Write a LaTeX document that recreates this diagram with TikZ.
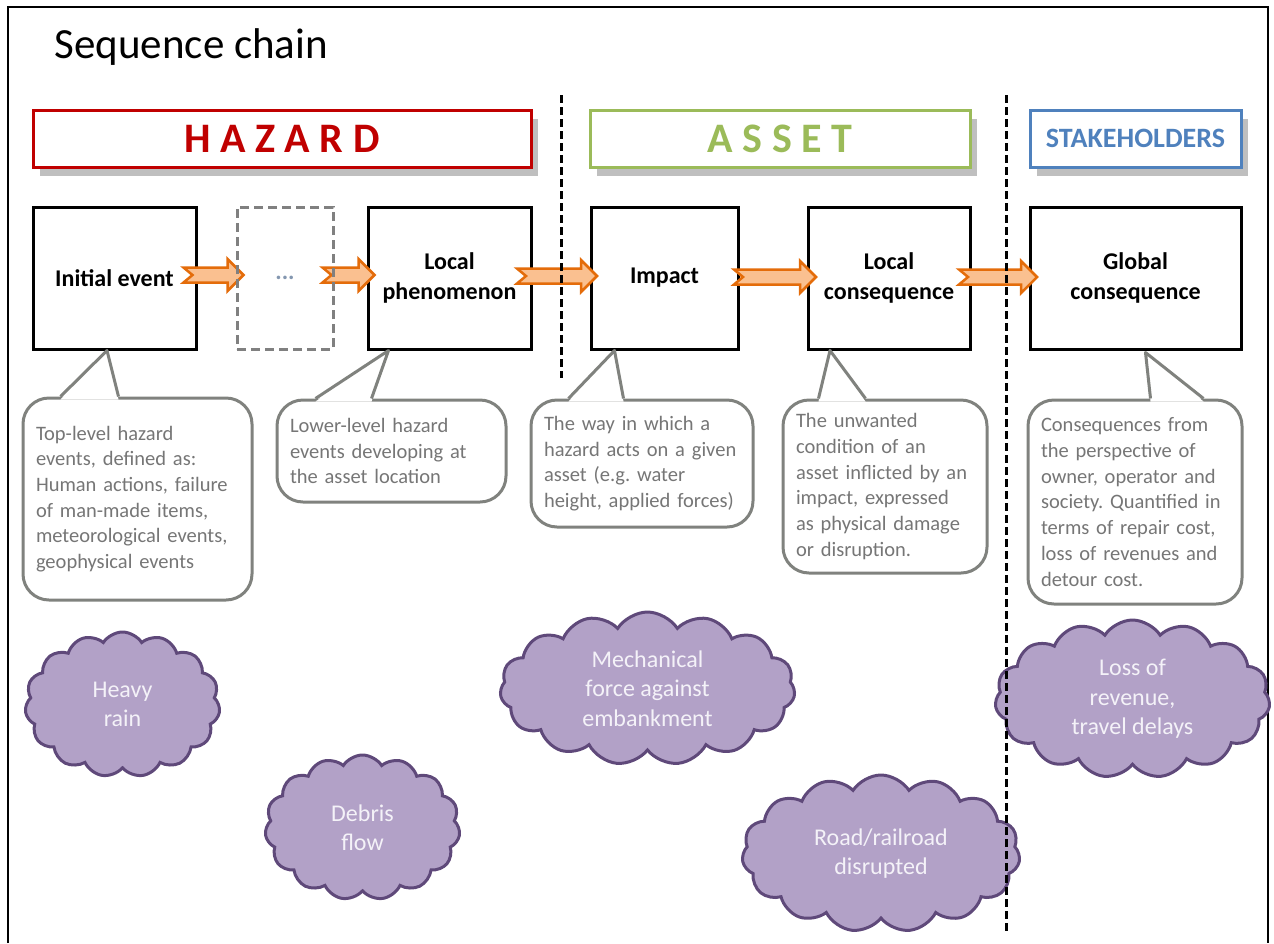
\documentclass[tikz,border=0pt]{standalone}
\usepackage{fontspec}
\setmainfont{Carlito}
\frenchspacing
\usetikzlibrary{shapes,arrows,shadows,calc}
\definecolor{hazred}{RGB}{192,0,0}
\definecolor{assetgreen}{RGB}{155,187,89}
\definecolor{stakeblue}{RGB}{79,129,189}
\definecolor{arrowline}{RGB}{228,108,10}
\definecolor{arrowfill}{RGB}{250,192,144}
\definecolor{calloutgray}{RGB}{128,130,126}
\definecolor{calltext}{RGB}{118,118,118}
\definecolor{cloudfill}{RGB}{178,161,199}
\definecolor{cloudline}{RGB}{95,73,122}
\definecolor{cloudtext}{RGB}{244,242,248}
\definecolor{dotsblue}{RGB}{132,151,176}
\pgfdeclarelayer{front}
\pgfsetlayers{main,front}
\tikzstyle{header} = [rectangle, draw, line width=3pt, fill=white, minimum height=57pt,
    font=\fontsize{42}{50}\selectfont\bfseries,
    drop shadow={shadow xshift=7pt, shadow yshift=-9pt, opacity=0.25, fill=black}]
\tikzstyle{block} = [rectangle, draw, line width=3pt, fill=white, minimum height=142pt,
    align=center, font=\fontsize{24}{30}\selectfont\bfseries]
\tikzstyle{ghost} = [rectangle, draw=black!50, line width=3pt, dash pattern=on 9pt off 5pt,
    minimum height=142pt, text=dotsblue, font=\fontsize{24}{28}\selectfont\bfseries]
\tikzstyle{infobox} = [rectangle, draw=calloutgray, line width=3pt, fill=white, rounded corners=26pt,
    inner xsep=13pt, align=left, text=calltext, font=\fontsize{20.5}{25.7}\selectfont]
\tikzstyle{pointer} = [draw=calloutgray, line width=3pt, line join=round]
\tikzstyle{cloudnode} = [cloud, cloud puffs=15, cloud puff arc=115, cloud ignores aspect, draw=cloudline,
    fill=cloudfill, line width=3pt, text=cloudtext, align=center, font=\fontsize{24}{29.5}\selectfont]
\tikzstyle{divider} = [draw, line width=3pt, dash pattern=on 8pt off 4pt]
\tikzset{fatarrow/.pic={
    \filldraw[draw=arrowline, fill=arrowfill, line width=2.5pt, line join=miter]
      (-#1/2,-7.5) -- (#1/2-16,-7.5) -- (#1/2-16,-16) -- (#1/2,0) -- (#1/2-16,16)
      -- (#1/2-16,7.5) -- (-#1/2,7.5) -- (-#1/2+9,0) -- cycle;
}}

\begin{document}
\begin{tikzpicture}[x=1pt, y=-1pt, node distance=170pt, auto]
    \useasboundingbox (0,0) rectangle (1274,943);
    \draw[line width=2pt] (8,943) -- (8,7) -- (1268,7) -- (1268,943);

    % Place nodes
    \node[anchor=west, font=\fontsize{43}{50}\selectfont] (title) at (51,47) {Sequence chain};

    \node[header, draw=hazred, text=hazred, minimum width=498pt] (hazard) at (282,138.5) {H A Z A R D};
    \node[header, draw=assetgreen, text=assetgreen, minimum width=380pt, right of=hazard, node distance=498pt] (asset) {A S S E T};
    \node[header, draw=stakeblue, text=stakeblue, minimum width=211pt, right of=asset, node distance=355.5pt,
        font=\fontsize{28}{34}\selectfont\bfseries] (stake) {STAKEHOLDERS};

    \node[block, minimum width=163pt] (init) at (114.5,278) {Initial event};
    \begin{pgfonlayer}{front}
    \node[ghost, minimum width=96pt, right of=init, node distance=170.5pt] (dots) {...};
    \end{pgfonlayer}
    \node[block, minimum width=163pt, right of=dots, node distance=164.5pt] (lphen) {Local\\phenomenon};
    \node[block, minimum width=147pt, right of=lphen, node distance=215pt] (impact) {Impact};
    \node[block, minimum width=162pt, right of=impact, node distance=224.5pt] (lcons) {Local\\consequence};
    \node[block, minimum width=211pt, right of=lcons, node distance=246.5pt] (gcons) {Global\\consequence};

    % Callouts
    \node[infobox, minimum width=229pt, minimum height=202pt, text width=203pt] (c1) at (137.5,499)
        {Top-level hazard\\events, defined as:\\Human actions, failure\\of man-made items,\\meteorological events,\\geophysical events};
    \node[infobox, minimum width=229pt, minimum height=102pt, text width=203pt] (c2) at (391.5,451)
        {Lower-level hazard\\events developing at\\the asset location};
    \node[infobox, minimum width=222pt, minimum height=127pt, text width=196pt] (c3) at (642,463.5)
        {The way in which a\\hazard acts on a given\\asset (e.g. water\\height, applied forces)};
    \node[infobox, minimum width=204pt, minimum height=173pt, text width=178pt] (c4) at (885,486.5)
        {The unwanted\\condition of an\\asset inflicted by an\\impact, expressed\\as physical damage\\or disruption.};
    \node[infobox, minimum width=214pt, minimum height=204pt, text width=188pt] (c5) at (1135,502)
        {Consequences from\\the perspective of\\owner, operator and\\society. Quantified in\\terms of repair cost,\\loss of revenues and\\detour cost.};

    % Examples
    \node[cloudnode, minimum width=195pt, minimum height=145pt] (rain) at (122.5,704.5) {Heavy\\rain};
    \node[cloudnode, minimum width=195pt, minimum height=145pt] (debris) at (362.5,827.5) {Debris\\flow};
    \node[cloudnode, minimum width=295pt, minimum height=153pt] (force) at (647.5,688.5) {Mechanical\\force against\\embankment};
    \node[cloudnode, minimum width=278pt, minimum height=157pt] (road) at (881,853.5) {Road/railroad\\disrupted};
    \node[cloudnode, minimum width=275pt, minimum height=158pt] (loss) at (1132.5,699) {Loss of\\revenue,\\travel delays};

    % Draw edges
    \path (init) -- coordinate[midway] (a1) (dots);
    \path (dots) -- coordinate[midway] (a2) (lphen);
    \path (lphen) -- coordinate[midway] (a3) (impact);
    \path (impact) -- coordinate[midway] (a4) (lcons);
    \path (lcons) -- coordinate[midway] (a5) (gcons);
    \pic at ($(a1)+(-3,-3)$) {fatarrow=60};
    \pic at ($(a2)+(-2,-3)$) {fatarrow=52};
    \pic at ($(a3)+(-4,-2)$) {fatarrow=80};
    \pic at ($(a4)+(2,-1)$) {fatarrow=82};
    \pic at ($(a5)+(-2,-1)$) {fatarrow=78};

    % Callout pointers
    \fill[white] ($(c1.north west)+(39,3)$) -- ($(init.south)+(-7.5,0)$) -- ($(c1.north west)+(97,3)$) -- cycle;
    \path[pointer] ($(c1.north west)+(39,0)$) -- ($(init.south)+(-7.5,0)$) -- ($(c1.north west)+(97,0)$);
    \fill[white] ($(c2.north west)+(40,3)$) -- ($(lphen.south)+(-61,0)$) -- ($(c2.north west)+(96,3)$) -- cycle;
    \path[pointer] ($(c2.north west)+(40,0)$) -- ($(lphen.south)+(-61,0)$) -- ($(c2.north west)+(96,0)$);
    \fill[white] ($(c3.north west)+(39,3)$) -- ($(impact.south)+(-50,0)$) -- ($(c3.north west)+(94,3)$) -- cycle;
    \path[pointer] ($(c3.north west)+(39,0)$) -- ($(impact.south)+(-50,0)$) -- ($(c3.north west)+(94,0)$);
    \fill[white] ($(c4.north west)+(37,3)$) -- ($(lcons.south)+(-59,0)$) -- ($(c4.north west)+(84,3)$) -- cycle;
    \path[pointer] ($(c4.north west)+(37,0)$) -- ($(lcons.south)+(-59,0)$) -- ($(c4.north west)+(84,0)$);
    \fill[white] ($(c5.north west)+(124,3)$) -- ($(gcons.south)+(10,2)$) -- ($(c5.north west)+(177,3)$) -- cycle;
    \path[pointer] ($(c5.north west)+(124,0)$) -- ($(gcons.south)+(10,2)$) -- ($(c5.north west)+(177,0)$);

    % Dividers
    \begin{pgfonlayer}{front}
    \path[divider] (561,95) -- (561,378);
    \path[divider] (1006,95) -- (1006,932);
    \end{pgfonlayer}
\end{tikzpicture}
\end{document}
